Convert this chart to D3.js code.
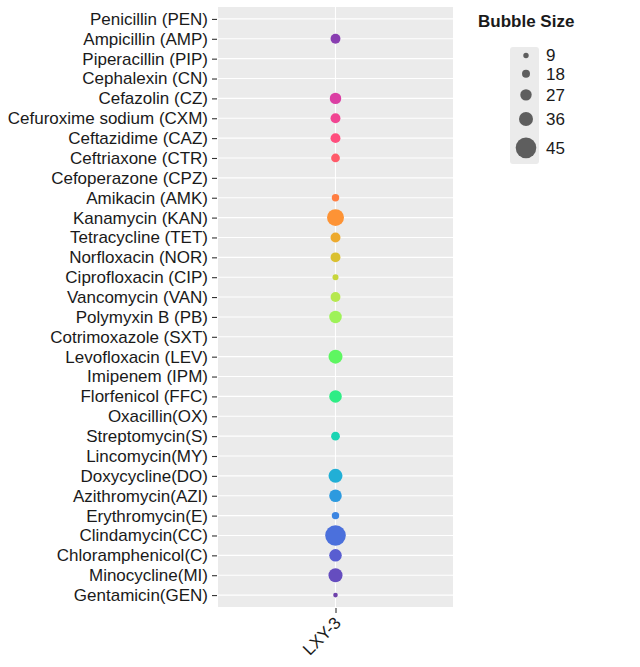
<!DOCTYPE html>
<html>
<head>
<meta charset="utf-8">
<script src="https://cdn.jsdelivr.net/npm/d3@7"></script>
<style>
  body { margin: 0; background: #fff; }
  svg { font-family: "Liberation Sans", Arial, Helvetica, sans-serif; }
</style>
</head>
<body>
<svg id="main-svg" width="640" height="667"></svg>
<script>
// antibiotics, top to bottom
var drugs = [
    'Penicillin (PEN)', 'Ampicillin (AMP)', 'Piperacillin (PIP)', 'Cephalexin (CN)',
    'Cefazolin (CZ)', 'Cefuroxime sodium (CXM)', 'Ceftazidime (CAZ)', 'Ceftriaxone (CTR)',
    'Cefoperazone (CPZ)', 'Amikacin (AMK)', 'Kanamycin (KAN)', 'Tetracycline (TET)',
    'Norfloxacin (NOR)', 'Ciprofloxacin (CIP)', 'Vancomycin (VAN)', 'Polymyxin B (PB)',
    'Cotrimoxazole (SXT)', 'Levofloxacin (LEV)', 'Imipenem (IPM)', 'Florfenicol (FFC)',
    'Oxacillin(OX)', 'Streptomycin(S)', 'Lincomycin(MY)', 'Doxycycline(DO)',
    'Azithromycin(AZI)', 'Erythromycin(E)', 'Clindamycin(CC)', 'Chloramphenicol(C)',
    'Minocycline(MI)', 'Gentamicin(GEN)'
];
var strains = ['LXY-3'];
// bubble size for LXY-3 (0 = no bubble)
var sizes = [
    0, 23, 0, 0,
    27, 23, 23, 20,
    0, 16, 40, 23,
    23, 11, 23, 31,
    0, 36, 0, 31,
    0, 20, 0, 36,
    31, 16, 45, 31,
    36, 6
];
var legendBreaks = [9, 18, 27, 36, 45];
var legendRadii = [2.7, 4, 5.7, 7, 10.3];

var svg = d3.select('#main-svg');
var panel = { left: 218, right: 453, top: 7, bottom: 607 };

var x = d3.scalePoint()
    .domain(strains)
    .range([panel.left, panel.right])
    .padding(0.5);

var y = d3.scalePoint()
    .domain(drugs)
    .range([panel.top, panel.bottom])
    .padding(0.6);

var r = d3.scaleLinear()
    .domain([0].concat(legendBreaks))
    .range([1.5].concat(legendRadii));

var colour = function(i) { return d3.interpolateRainbow(i / (drugs.length - 1)); };

// panel background
svg.append('rect')
    .attr('x', panel.left)
    .attr('y', panel.top)
    .attr('width', panel.right - panel.left)
    .attr('height', panel.bottom - panel.top)
    .attr('fill', '#ebebeb');

// grid lines
var grid = svg.append('g').attr('class', 'grid');
grid.selectAll('.hgrid')
    .data(drugs)
    .enter().append('line')
    .attr('class', 'hgrid')
    .attr('x1', panel.left)
    .attr('x2', panel.right)
    .attr('y1', function(d) { return y(d); })
    .attr('y2', function(d) { return y(d); })
    .attr('stroke', '#fff')
    .attr('stroke-width', 1.1);
grid.selectAll('.vgrid')
    .data(strains)
    .enter().append('line')
    .attr('class', 'vgrid')
    .attr('x1', function(d) { return x(d); })
    .attr('x2', function(d) { return x(d); })
    .attr('y1', panel.top)
    .attr('y2', panel.bottom)
    .attr('stroke', '#fff')
    .attr('stroke-width', 1.1);

// bubbles
var points = drugs.map(function(d, i) {
    return { drug: d, strain: strains[0], size: sizes[i], idx: i };
}).filter(function(p) { return p.size > 0; });

svg.append('g')
    .selectAll('circle')
    .data(points)
    .enter().append('circle')
    .attr('cx', function(d) { return x(d.strain); })
    .attr('cy', function(d) { return y(d.drug); })
    .attr('r', function(d) { return r(d.size); })
    .attr('fill', function(d) { return colour(d.idx); });

// axes
var yAxis = svg.append('g')
    .attr('transform', 'translate(' + (panel.left - 1) + ',0)')
    .call(d3.axisLeft(y).tickSize(5).tickPadding(4));
var xAxis = svg.append('g')
    .attr('transform', 'translate(0,' + (panel.bottom + 1) + ')')
    .call(d3.axisBottom(x).tickSize(5).tickPadding(4));

[yAxis, xAxis].forEach(function(ax) {
    ax.select('.domain').remove();
    ax.selectAll('.tick line').attr('stroke', '#333').attr('stroke-width', 1.1);
    ax.selectAll('.tick text')
        .attr('fill', '#1a1a1a')
        .style('font-size', '17px')
        .style('font-family', '"Liberation Sans", Arial, sans-serif');
});

xAxis.selectAll('.tick text')
    .attr('text-anchor', 'end')
    .attr('dy', null)
    .attr('y', 0)
    .attr('transform', 'translate(6,16) rotate(-45)');

// size legend
var legend = svg.append('g').attr('transform', 'translate(478,0)');
legend.append('text')
    .attr('x', 0)
    .attr('y', 27)
    .attr('font-size', '17px')
    .attr('font-weight', 'bold')
    .attr('fill', '#1a1a1a')
    .text('Bubble Size');

var keyTop = 47;
var keys = [];
var ky = keyTop;
legendBreaks.forEach(function(b) {
    var h = Math.max(16.5, 2 * r(b) + 11.5);
    keys.push({ value: b, cy: ky + h / 2 });
    ky += h;
});

legend.append('rect')
    .attr('x', 32)
    .attr('y', keyTop)
    .attr('width', 29)
    .attr('height', ky - keyTop)
    .attr('rx', 3)
    .attr('fill', '#ebebeb');

legend.selectAll('.key')
    .data(keys)
    .enter().append('circle')
    .attr('class', 'key')
    .attr('cx', 48)
    .attr('cy', function(d) { return d.cy; })
    .attr('r', function(d) { return r(d.value); })
    .attr('fill', '#5e5e5e');

legend.selectAll('.keylab')
    .data(keys)
    .enter().append('text')
    .attr('class', 'keylab')
    .attr('x', 68)
    .attr('y', function(d) { return d.cy; })
    .attr('dy', '0.35em')
    .attr('font-size', '17px')
    .attr('fill', '#1a1a1a')
    .text(function(d) { return d.value; });
</script>
</body>
</html>
